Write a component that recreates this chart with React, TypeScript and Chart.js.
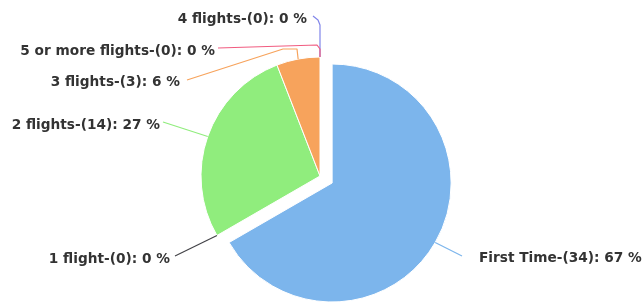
import React, { useEffect, useRef } from "react";
import { Chart, registerables } from "chart.js";

Chart.register(...registerables);

const categories = ["First Time", "1 flight", "2 flights", "3 flights", "4 flights", "5 or more flights"];
const counts = [34, 0, 14, 3, 0, 0];
const percents = [67, 0, 27, 6, 0, 0];
const colors = ["#7cb5ec", "#434348", "#90ed7d", "#f7a35c", "#8085e9", "#f15c80"];
const sliced = [true, false, false, false, false, false];

const SLICE_OFFSET = 14;
const RADIUS = 119;

// label layout: connector bend points and text anchor, relative to pie centre
type LabelSpec = { pts: [number, number][]; text: [number, number]; align: CanvasTextAlign };
const labelLayout: LabelSpec[] = [
  { pts: [[142, 80]], text: [159, 82], align: "left" },
  { pts: [[-145, 80]], text: [-150, 83], align: "right" },
  { pts: [[-157, -54]], text: [-160, -51], align: "right" },
  { pts: [[-23, -127], [-37, -127], [-133, -96]], text: [-140, -94], align: "right" },
  { pts: [[0, -151], [-2, -156], [-7, -160]], text: [-13, -157], align: "right" },
  { pts: [[0, -127], [-3, -131], [-102, -128]], text: [-105, -125], align: "right" },
];
const drawOrder = [0, 1, 2, 3, 4, 5];

const slicePlugin = {
  id: "sliceOffset",
  beforeDatasetDraw(chart: any, args: any) {
    const ctx = chart.ctx;
    const meta = args.meta;
    meta.data.forEach((el: any, i: number) => {
      ctx.save();
      if (sliced[i]) {
        const mid = (el.startAngle + el.endAngle) / 2;
        ctx.translate(Math.cos(mid) * SLICE_OFFSET, Math.sin(mid) * SLICE_OFFSET);
      }
      el.draw(ctx, chart.chartArea);
      ctx.restore();
    });
    return false;
  },
};

const labelPlugin = {
  id: "pieLabels",
  afterDraw(chart: any) {
    const ctx = chart.ctx;
    const meta = chart.getDatasetMeta(0);
    ctx.save();
    ctx.font = "bold 13.7px 'DejaVu Sans'";
    ctx.textBaseline = "middle";
    drawOrder.forEach((i) => {
      const el = meta.data[i];
      if (!el) return;
      const cx = el.x;
      const cy = el.y;
      const mid = (el.startAngle + el.endAngle) / 2;
      let ax = cx + Math.cos(mid) * el.outerRadius;
      let ay = cy + Math.sin(mid) * el.outerRadius;
      if (sliced[i]) {
        ax += Math.cos(mid) * SLICE_OFFSET;
        ay += Math.sin(mid) * SLICE_OFFSET;
      }
      const spec = labelLayout[i];
      ctx.beginPath();
      ctx.strokeStyle = colors[i];
      ctx.lineWidth = 1.2;
      ctx.lineJoin = "round";
      ctx.moveTo(ax, ay);
      spec.pts.forEach(([dx, dy]) => ctx.lineTo(cx + dx, cy + dy));
      ctx.stroke();
      ctx.fillStyle = "#333333";
      ctx.textAlign = spec.align;
      ctx.fillText(`${categories[i]}-(${counts[i]}): ${percents[i]} %`, cx + spec.text[0], cy + spec.text[1]);
    });
    ctx.restore();
  },
};

export default function App() {
  const ref = useRef<HTMLCanvasElement | null>(null);
  useEffect(() => {
    if (!ref.current) return;
    const chart = new Chart(ref.current, {
      type: "pie",
      data: {
        labels: categories,
        datasets: [
          {
            data: counts,
            backgroundColor: colors,
            borderColor: "#ffffff",
            borderWidth: 1,
            radius: RADIUS,
          } as any,
        ],
      },
      options: {
        animation: false,
        responsive: false,
        devicePixelRatio: 1,
        layout: { padding: { left: 0, right: 2, top: 50, bottom: 0 } },
        plugins: {
          legend: { display: false },
          tooltip: { enabled: false },
        },
      },
      plugins: [slicePlugin, labelPlugin],
    });
    return () => chart.destroy();
  }, []);
  return (
    <div style={{ position: "absolute", left: 0, top: 0, width: 642, height: 302, background: "#fff" }}>
      <canvas ref={ref} width={642} height={302} style={{ display: "block" }} />
    </div>
  );
}
